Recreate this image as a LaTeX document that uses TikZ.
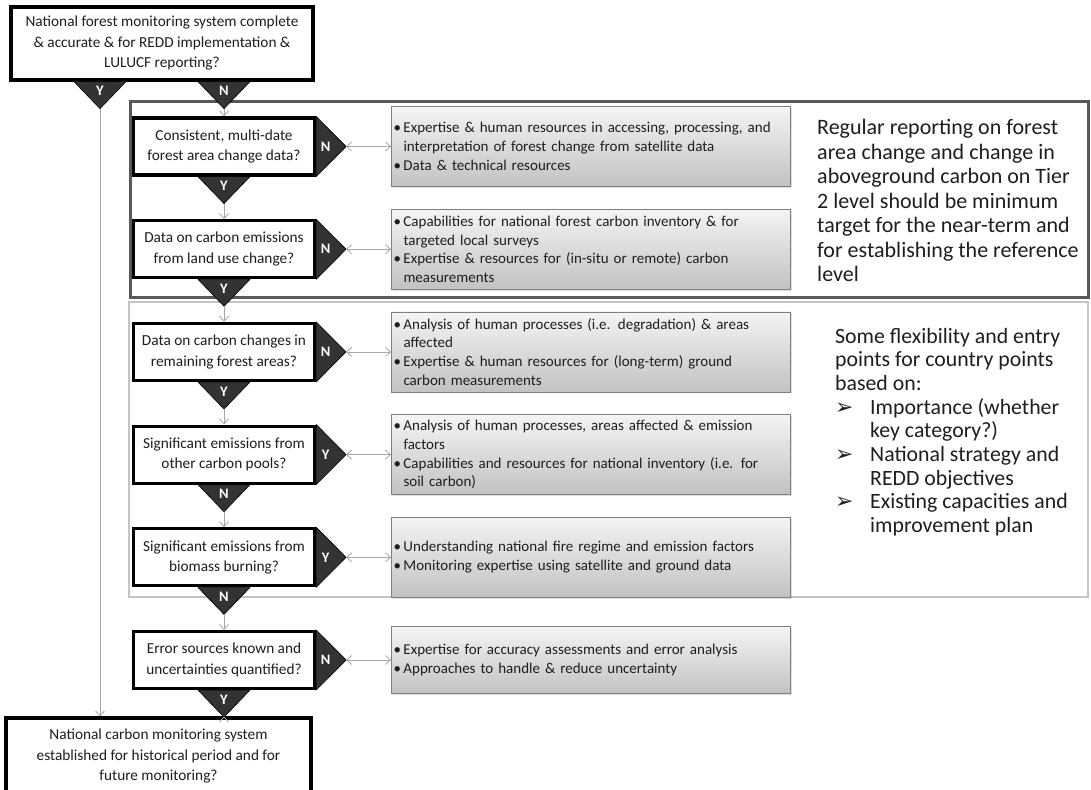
\documentclass[tikz,border=0pt]{standalone}
\usepackage{fontspec}
\setmainfont{Carlito}
\newfontfamily\symfont{DejaVu Sans}
\usepackage{xcolor}
\definecolor{Charcoal}{HTML}{333333}
\definecolor{Wire}{HTML}{A6A6A6}
\definecolor{Frame}{HTML}{595959}
\definecolor{Pale}{HTML}{C4C4C4}
\definecolor{Sheet}{HTML}{F4F4F4}
\definecolor{Shade}{HTML}{C2C2C2}
\definecolor{Edge}{HTML}{808080}
\definecolor{Ink}{HTML}{1E1E1E}
\usepackage{tikz}
\usetikzlibrary{arrows.meta,positioning,shadows}
\newcommand{\bul}{\makebox[10pt][l]{\textbullet}}
\newcommand{\ind}{\hspace*{10pt}}
\newcommand{\arr}{\makebox[35pt][l]{\symfont\char"27A2}}
% flag under a box: point, letter, name of the tip
\newcommand{\downflag}[3]{%
  \filldraw[flag] ([xshift=-26pt]#1) -- ([xshift=26pt]#1) -- ([yshift=-27pt]#1) coordinate (#3) -- cycle;
  \node[flagtext] (#3-txt) at ([yshift=-9.5pt]#1) {#2};}
% flag at the right side of a box
\newcommand{\sideflag}[3]{%
  \filldraw[flag] (#1.north east) -- (#1.south east) -- ([xshift=30pt]#1.east) coordinate (#3) -- cycle;
  \node[flagtext] (#3-txt) at ([xshift=9.5pt]#1.east) {#2};}

\begin{document}
\begin{tikzpicture}[
  x=1pt,y=-1pt,
  node distance=42.5pt and 75pt,
  ask/.style={draw=black,line width=3.2pt,fill=white,minimum width=181pt,minimum height=57pt,align=center,text=Ink,font=\fontsize{15.3}{20.5}\selectfont,inner sep=1pt},
  need/.style={draw=Edge,line width=0.8pt,top color=Sheet,bottom color=Shade,minimum height=80pt,text width=395pt,align=left,text=Ink,font=\fontsize{15}{18.7}\selectfont,inner sep=2pt,drop shadow={opacity=0.25,shadow xshift=1.5pt,shadow yshift=-1.5pt}},
  note/.style={align=left,text=Ink,inner sep=0pt,anchor=west},
  flag/.style={fill=Charcoal,draw=black,line width=0.6pt,line join=round},
  flagtext/.style={text=white,font=\fontsize{14.5}{14.5}\selectfont\bfseries,inner sep=0pt},
  link/.style={draw=Wire,line width=0.8pt,-{Straight Barb[length=5pt,width=9pt]}},
  twoway/.style={draw=Wire,line width=0.8pt,{Straight Barb[length=5pt,width=9pt]}-{Straight Barb[length=5pt,width=9pt]}},
  upframe/.style={draw=Frame,line width=3pt},
  lowframe/.style={draw=Pale,line width=2.6pt}
]
\useasboundingbox (0,0) rectangle (1091,789);
\clip (0,0) rectangle (1091,789);
\fill[white] (0,0) rectangle (1091,789);

% frames round the two groups
\draw[upframe] (130,102) rectangle (1088,297);
\draw[lowframe] (129,302) rectangle (1088,597);

% start and end
\node[ask,minimum width=302pt,minimum height=73pt] (start) at (162,43.5) {National forest monitoring system complete\\\& accurate \& for REDD implementation \&\\LULUCF reporting?};
\node[ask,minimum width=305pt,minimum height=76pt] (final) at (158.5,756) {National carbon monitoring system\\established for historical period and for\\future monitoring?};

% questions
\node[ask] (dec1) at (224,146.5) {Consistent, multi-date\\forest area change data?};
\node[ask,below=of dec1] (dec2) {Data on carbon emissions\\from land use change?};
\node[ask,below=of dec2] (dec3) {Data on carbon changes in\\remaining forest areas?};
\node[ask,below=of dec3] (dec4) {Significant emissions from\\other carbon pools?};
\node[ask,below=of dec4] (dec5) {Significant emissions from\\biomass burning?};
\node[ask,below=of dec5] (dec6) {Error sources known and\\uncertainties quantified?};

% what is needed
\node[need,right=of dec1] (need1) {\bul Expertise \& human resources in accessing, processing, and\\\ind interpretation of forest change from satellite data\\\bul Data \& technical resources};
\node[need,right=of dec2] (need2) {\bul Capabilities for national forest carbon inventory \& for\\\ind targeted local surveys\\\bul Expertise \& resources for (in-situ or remote) carbon\\\ind measurements};
\node[need,right=of dec3] (need3) {\bul Analysis of human processes (i.e. degradation) \& areas\\\ind affected\\\bul Expertise \& human resources for (long-term) ground\\\ind carbon measurements};
\node[need,right=of dec4] (need4) {\bul Analysis of human processes, areas affected \& emission\\\ind factors\\\bul Capabilities and resources for national inventory (i.e. for\\\ind soil carbon)};
\node[need,right=of dec5] (need5) {\bul Understanding national fire regime and emission factors\\\bul Monitoring expertise using satellite and ground data};
\node[need,right=of dec6,minimum height=67pt] (need6) {\bul Expertise for accuracy assessments and error analysis\\\bul Approaches to handle \& reduce uncertainty};

% side notes
\node[note,font=\fontsize{22}{24.5}\selectfont] (note1) at (817,200.5) {Regular reporting on forest\\area change and change in\\aboveground carbon on Tier\\2 level should be minimum\\target for the near-term and\\for establishing the reference\\level};
\node[note,font=\fontsize{21.8}{23.7}\selectfont] (note2) at (835,432) {Some flexibility and entry\\points for country points\\based on:\\\arr Importance (whether\\\hspace*{35pt}key category?)\\\arr National strategy and\\\hspace*{35pt}REDD objectives\\\arr Existing capacities and\\\hspace*{35pt}improvement plan};

% flags
\coordinate (startY) at ([xshift=-62pt]start.south);
\coordinate (startN) at ([xshift=62pt]start.south);
\downflag{startY}{Y}{yes0}
\downflag{startN}{N}{no0}
\sideflag{dec1}{N}{side1}
\downflag{dec1.south}{Y}{down1}
\sideflag{dec2}{N}{side2}
\downflag{dec2.south}{Y}{down2}
\sideflag{dec3}{N}{side3}
\downflag{dec3.south}{Y}{down3}
\sideflag{dec4}{Y}{side4}
\downflag{dec4.south}{N}{down4}
\sideflag{dec5}{Y}{side5}
\downflag{dec5.south}{N}{down5}
\sideflag{dec6}{N}{side6}
\downflag{dec6.south}{Y}{down6}

% connectors
\draw[link] (yes0) -- (yes0 |- final.north);
\draw[link] (no0) -- (dec1.north);
\draw[link] (down1) -- (dec2.north);
\draw[link] (down2) -- (dec3.north);
\draw[link] (down3) -- (dec4.north);
\draw[link] (down4) -- (dec5.north);
\draw[link] (down5) -- (dec6.north);
\draw[link] (down6) -- (down6 |- final.north);
\draw[twoway] (side1) -- (need1.west);
\draw[twoway] (side2) -- (need2.west);
\draw[twoway] (side3) -- (need3.west);
\draw[twoway] (side4) -- (need4.west);
\draw[twoway] (side5) -- (need5.west);
\draw[twoway] (side6) -- (need6.west);
\end{tikzpicture}
\end{document}
